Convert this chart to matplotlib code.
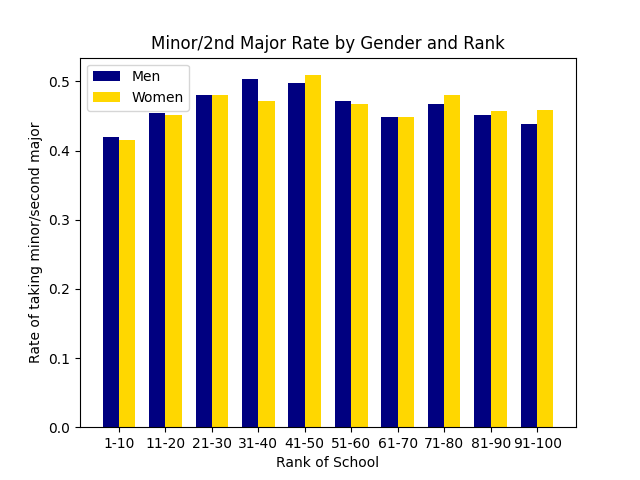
import matplotlib
matplotlib.use("Agg")
import matplotlib.pyplot as plt
import numpy as np

ranks = ["1-10", "11-20", "21-30", "31-40", "41-50", "51-60", "61-70", "71-80", "81-90", "91-100"]
men = [0.419, 0.454, 0.480, 0.504, 0.497, 0.471, 0.449, 0.468, 0.452, 0.438]
women = [0.415, 0.452, 0.480, 0.471, 0.509, 0.467, 0.448, 0.480, 0.457, 0.459]

x = np.arange(len(ranks))
w = 0.35
fig, ax = plt.subplots(figsize=(6.4, 4.8), dpi=100)
ax.bar(x - w / 2, men, w, color="navy", label="Men")
ax.bar(x + w / 2, women, w, color="gold", label="Women")
ax.set_xticks(x)
ax.set_xticklabels(ranks)
ax.set_xlabel("Rank of School")
ax.set_ylabel("Rate of taking minor/second major")
ax.set_title("Minor/2nd Major Rate by Gender and Rank")
ax.legend(loc="upper left")
fig.savefig("out.png")
